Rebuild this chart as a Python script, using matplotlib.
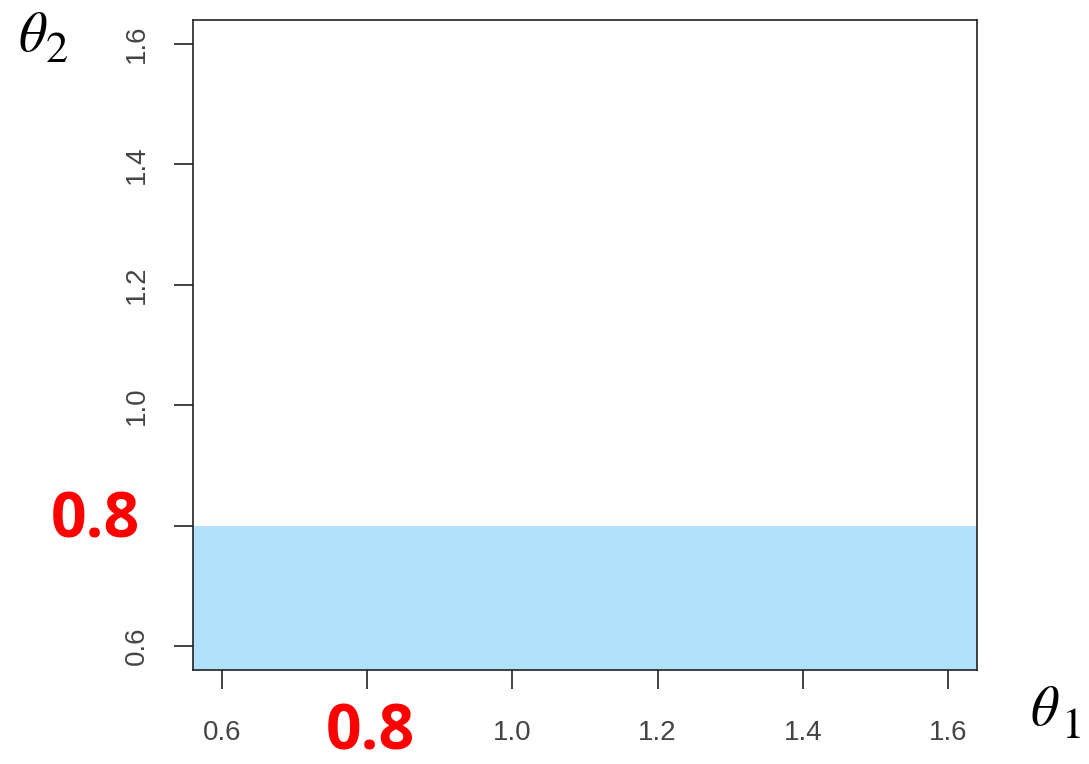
import matplotlib
matplotlib.use("Agg")
import matplotlib.pyplot as plt

# region: theta2 <= 0.8
x_range = [0.56, 1.64]
y_low = 0.56
y_cut = 0.8
ticks = [0.6, 0.8, 1.0, 1.2, 1.4, 1.6]
tick_labels = ["0.6", "", "1.0", "1.2", "1.4", "1.6"]
fill_color = "#b0e0fa"

plt.rcParams["mathtext.fontset"] = "stix"

W, H = 1089, 764
fig = plt.figure(figsize=(W / 100, H / 100), dpi=100)
ax = fig.add_axes([0.1772, 0.1230, 0.7200, 0.8508])

ax.fill_between(x_range, y_low, y_cut, color=fill_color, linewidth=0)

ax.set_xlim(x_range)
ax.set_ylim(0.56, 1.64)
ax.set_xticks(ticks)
ax.set_xticklabels(tick_labels, fontsize=20, family="Liberation Sans",
                   color="#444444")
ax.set_yticks(ticks)
ax.set_yticklabels(tick_labels, rotation=90, va="center", fontsize=20,
                   family="Liberation Sans", color="#444444")
ax.tick_params(direction="out", length=14, width=1.2, color="#222222")
ax.tick_params(axis="x", pad=22)
ax.tick_params(axis="y", pad=17)
for s in ax.spines.values():
    s.set_linewidth(1.2)
    s.set_color("#222222")


def px(x, y):
    return x / W, 1 - y / H


# red labels for the cut point
red = dict(color="red", fontsize=45, fontweight="bold", family="Open Sans",
           ha="center", va="center")
fig.text(*px(370, 733), "0.8", **red)
fig.text(*px(95, 521), "0.8", **red)

# axis names
fig.text(*px(33, 36), r"$\theta$", fontsize=40, ha="center", va="center")
fig.text(*px(57, 52), "2", fontsize=32, family="STIXGeneral",
         ha="center", va="center")
fig.text(*px(1045, 710), r"$\theta$", fontsize=40, ha="center", va="center")
fig.text(*px(1072, 728), "1", fontsize=32, family="STIXGeneral",
         ha="center", va="center")

fig.savefig("out.png", dpi=100)
